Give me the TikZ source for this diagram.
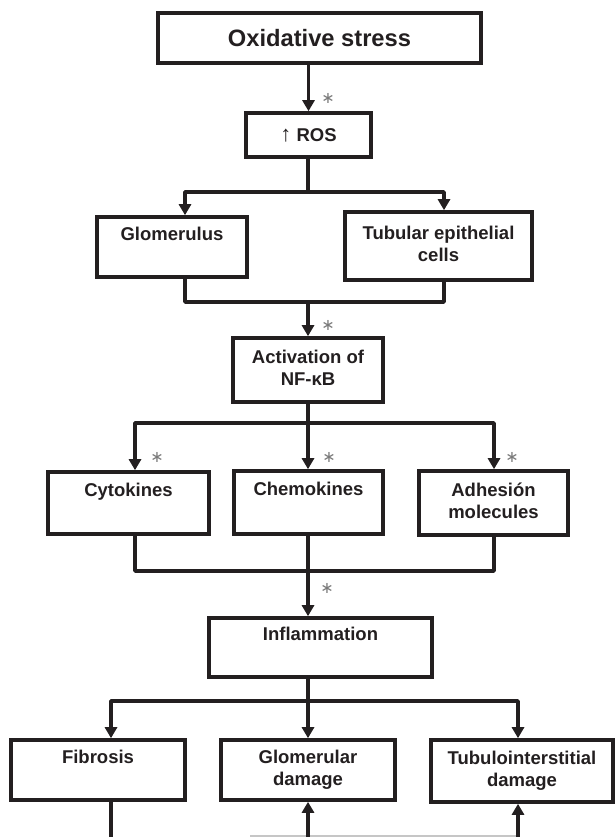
\documentclass[tikz,border=0pt]{standalone}
\usepackage{fontspec}
\setmainfont{Liberation Sans}
\newfontfamily\symfont{DejaVu Sans}
\usetikzlibrary{arrows.meta}
\definecolor{ink}{HTML}{231F20}
\definecolor{astgray}{HTML}{7A7A7A}
\begin{document}
\begin{tikzpicture}[x=1pt,y=-1pt,
  boxnode/.style={draw=ink, line width=3.6pt, text=ink, inner sep=0pt, align=center,
    font=\fontsize{18.5}{22}\selectfont\bfseries},
  ln/.style={draw=ink, line width=3.6pt, line join=round},
  arr/.style={ln, -{Triangle[width=12pt,length=11pt]}},
  ast/.style={text=astgray, font=\symfont\fontsize{16}{16}\selectfont, inner sep=0pt}]
\useasboundingbox (0,0) rectangle (615,837);

% boxes
\node[boxnode, minimum width=323pt, minimum height=50pt,
      font=\fontsize{23.7}{28}\selectfont\bfseries] (ox) at (319.5,38) {Oxidative stress};
\node[boxnode, minimum width=125pt, minimum height=44pt] (ros) at (308.5,135) {{\mdseries\fontsize{22}{22}\selectfont ↑} ROS};
\node[boxnode, minimum width=150pt, minimum height=60pt] (glom) at (172,247) {\strut Glomerulus\\\strut};
\node[boxnode, minimum width=187pt, minimum height=68pt] (tub) at (438.5,246) {\strut Tubular epithelial\\\strut cells};
\node[boxnode, minimum width=150pt, minimum height=64pt] (act) at (308,370) {\strut Activation of\\\strut NF-κB};
\node[boxnode, minimum width=161pt, minimum height=62pt] (cyt) at (128.5,503) {\strut Cytokines\\\strut};
\node[boxnode, minimum width=149pt, minimum height=63pt] (chem) at (308.5,502.5) {\strut Chemokines\\\strut};
\node[boxnode, minimum width=149pt, minimum height=64pt] (adh) at (493.5,503) {\strut Adhesión\\\strut molecules};
\node[boxnode, minimum width=223pt, minimum height=59pt] (infl) at (320.5,647.5) {\strut Inflammation\\\strut};
\node[boxnode, minimum width=174pt, minimum height=60pt] (fib) at (98,770) {\strut Fibrosis\\\strut};
\node[boxnode, minimum width=174pt, minimum height=60pt] (gd) at (308,770) {\strut Glomerular\\\strut damage};
\node[boxnode, minimum width=182pt, minimum height=62pt] (tid) at (522,771) {\strut Tubulointerstitial\\\strut damage};

% junction coordinates
\coordinate (s1) at (308,192);
\coordinate (gl) at (185,192);
\coordinate (tl) at (444,192);
\coordinate (m1) at (308,302);
\coordinate (s2) at (308,423);
\coordinate (cl) at (135,423);
\coordinate (al) at (494,423);
\coordinate (m2) at (308,571);
\coordinate (s3) at (308,701);
\coordinate (fl) at (111,701);
\coordinate (dl) at (308,701);
\coordinate (tdl) at (518,701);
\coordinate (b1) at (111,837);
\coordinate (b2) at (308,837);
\coordinate (b3) at (518,837);
\coordinate (g0) at (250,835.5);

% connectors
\draw[arr] (ox.south -| ros.north) -- (ros.north);
\draw[ln] (ros.south -| s1) -- (s1);
\draw[arr] (s1) -| (glom.north -| gl);
\draw[arr] (s1) -| (tub.north -| tl);
\draw[ln] (glom.south -| gl) |- (m1);
\draw[ln] (tub.south -| tl) |- (m1);
\draw[arr] (m1) -- (act.north -| m1);

\draw[ln] (act.south -| s2) -- (s2);
\draw[arr] (s2) -| (cyt.north -| cl);
\draw[arr] (s2) -- (chem.north -| s2);
\draw[arr] (s2) -| (adh.north -| al);
\draw[ln] (cyt.south -| cl) |- (m2);
\draw[ln] (adh.south -| al) |- (m2);
\draw[ln] (chem.south -| m2) -- (m2);
\draw[arr] (m2) -- (infl.north -| m2);

\draw[ln] (infl.south -| s3) -- (s3);
\draw[arr] (s3) -| (fib.north -| fl);
\draw[arr] (s3) -- (gd.north -| dl);
\draw[arr] (s3) -| (tid.north -| tdl);

\draw[ln] (fib.south -| b1) -- (b1);
\draw[gray!45, line width=2pt] (g0) -- (b3 |- g0);
\draw[arr] (b2) -- (gd.south -| b2);
\draw[arr] (b3) -- (tid.south -| b3);

% asterisks
\node[ast] (a1) at (328,98) {∗};
\node[ast] (a2) at (328,325) {∗};
\node[ast] (a3) at (157,457) {∗};
\node[ast] (a4) at (329,457) {∗};
\node[ast] (a5) at (512,457) {∗};
\node[ast] (a6) at (327,588) {∗};
\end{tikzpicture}
\end{document}
